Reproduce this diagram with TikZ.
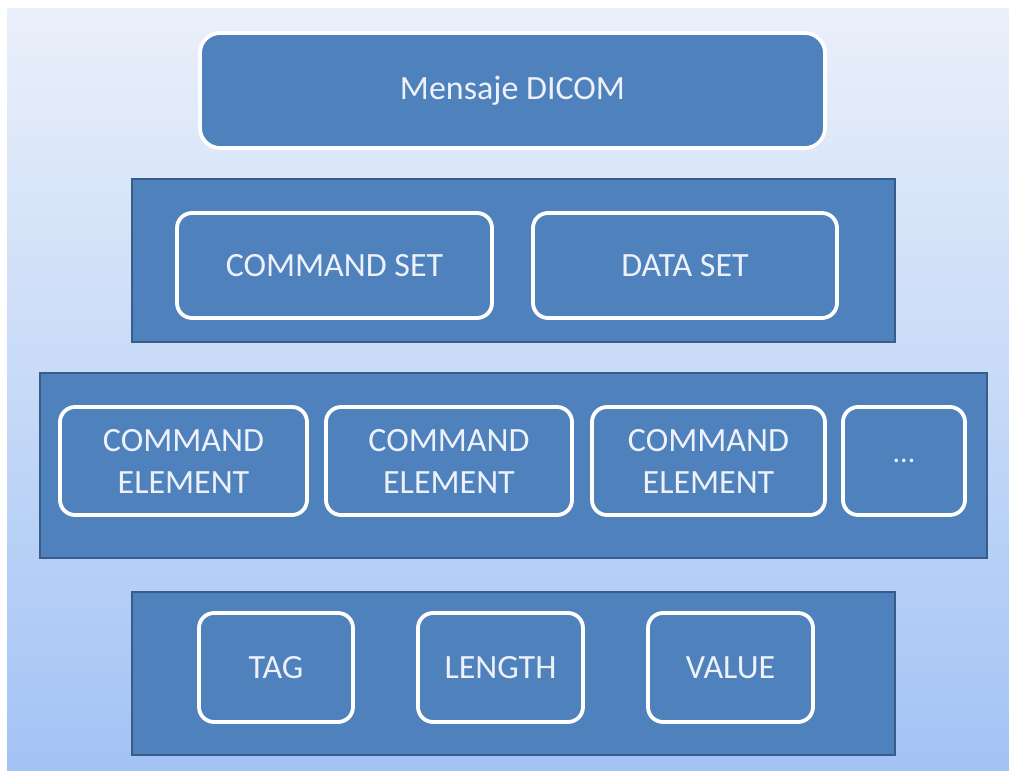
\documentclass[tikz,border=0pt]{standalone}
\usepackage{fontspec}
\setmainfont{Carlito}
\usepackage{tikz}
\usetikzlibrary{positioning}
\usetikzlibrary{shadows}

\definecolor{dcmblue}{RGB}{79,129,189}
\definecolor{dcmedge}{RGB}{56,93,138}
\definecolor{dcmtext}{RGB}{236,241,250}
\definecolor{bgtop}{RGB}{234,240,250}
\definecolor{bgbot}{RGB}{163,195,245}

\begin{document}
\begin{tikzpicture}[x=0.5pt, y=-0.5pt, node distance=3ex]

\tikzstyle{layer}=[rectangle, fill=dcmblue, draw=dcmedge, line width=1pt,
  inner sep=0pt]
\tikzstyle{part}=[rectangle, rounded corners=7.5pt, fill=dcmblue, draw=white,
  line width=1.9pt, inner sep=0pt, align=center, text=dcmtext,
  font=\fontsize{17}{21}\selectfont,
  drop shadow={opacity=0.25, shadow xshift=0.8pt, shadow yshift=-0.8pt}]

\useasboundingbox (0,0) rectangle (1009,771);
\shade[top color=bgtop, bottom color=bgbot] (7,8) rectangle (1009,771);

\node[part, rounded corners=10pt, minimum width=312.5pt, minimum height=57.5pt]
  (msg) at (512.5,90.5) {Mensaje DICOM};

\node[layer, minimum width=381.5pt, minimum height=81.5pt] (sets) at (513.5,260.5) {};
\node[part, minimum width=157.5pt, minimum height=52.5pt] (cmdset) at (334.5,265.5)
  {COMMAND SET};
\node[part, minimum width=152pt, minimum height=52.5pt] (dataset) at (685,265.5)
  {DATA SET};

\node[layer, minimum width=473.5pt, minimum height=92.5pt] (elems) at (513.5,465.5) {};
\node[part, minimum width=123.5pt, minimum height=54pt] (elemA) at (183.5,461)
  {COMMAND\\ELEMENT};
\node[part, minimum width=123pt, minimum height=54pt] (elemB) at (449,461)
  {COMMAND\\ELEMENT};
\node[part, minimum width=116.5pt, minimum height=54pt] (elemC) at (708.5,461)
  {COMMAND\\ELEMENT};
\node[part, minimum width=61pt, minimum height=54pt, font=\fontsize{15}{18}\selectfont]
  (elemmore) at (904,461) {...};

\node[layer, minimum width=381.5pt, minimum height=81.5pt] (fields) at (513.5,673.5) {};
\node[part, minimum width=77pt, minimum height=54.5pt] (tag) at (276,667.5) {TAG};
\node[part, minimum width=82.5pt, minimum height=54.5pt] (length) at (500.5,667.5)
  {LENGTH};
\node[part, minimum width=82.5pt, minimum height=54.5pt] (value) at (730.5,667.5)
  {VALUE};

\end{tikzpicture}
\end{document}
